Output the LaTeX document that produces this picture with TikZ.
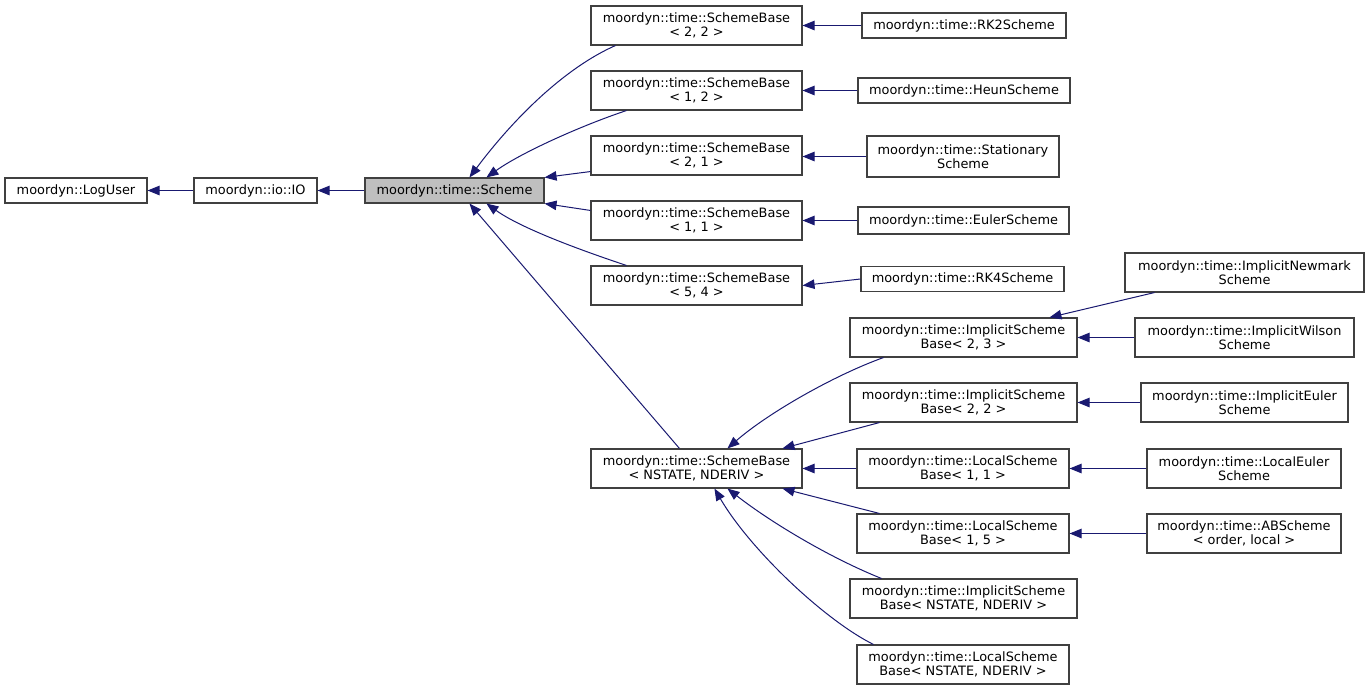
\documentclass[tikz,border=0pt]{standalone}
\usepackage{fontspec}
\setmainfont{DejaVu Sans}
\usetikzlibrary{arrows.meta}
\definecolor{azulFlecha}{HTML}{191970}
\definecolor{grisBorde}{HTML}{404040}
\definecolor{grisClase}{HTML}{BFBFBF}
\tikzset{
  clase/.style={draw=grisBorde, line width=1.1pt, inner sep=0pt, align=center,
    minimum height=25, font=\fontsize{12.9}{14}\selectfont},
  dosLineas/.style={minimum height=39},
  herencia/.style={draw=azulFlecha, line width=1pt,
    -{Triangle[length=12pt,width=9.5pt]}, fill=none},
}
\newcommand{\mtime}{moordyn::time::}

\begin{document}
\begin{tikzpicture}[x=1pt,y=-1pt]
  \useasboundingbox (0,0) rectangle (1369,691);
  % raiz de la jerarquia
  \node[clase, minimum width=142] (loguser) at (76,190.5)  {moordyn::LogUser};
  \node[clase, minimum width=123] (io)      at (255.5,190.5) {moordyn::io::IO};
  \node[clase, minimum width=179, fill=grisClase] (scheme) at (454.5,190.5) {\mtime Scheme};
  % SchemeBase
  \node[clase, dosLineas, minimum width=211] (sbA) at (696.5,25.5)  {\mtime SchemeBase\\< 2, 2 >};
  \node[clase, dosLineas, minimum width=211] (sbB) at (696.5,90.5)  {\mtime SchemeBase\\< 1, 2 >};
  \node[clase, dosLineas, minimum width=211] (sbC) at (696.5,155.5) {\mtime SchemeBase\\< 2, 1 >};
  \node[clase, dosLineas, minimum width=211] (sbD) at (696.5,220.5) {\mtime SchemeBase\\< 1, 1 >};
  \node[clase, dosLineas, minimum width=211] (sbE) at (696.5,285.5) {\mtime SchemeBase\\< 5, 4 >};
  \node[clase, dosLineas, minimum width=211] (sbN) at (696.5,468.5) {\mtime SchemeBase\\< NSTATE, NDERIV >};
  % esquemas explicitos
  \node[clase, minimum width=204] (rkdos)    at (964,25.5)  {\mtime RK2Scheme};
  \node[clase, minimum width=212] (heun)     at (964,90.5)  {\mtime HeunScheme};
  \node[clase, minimum width=192, minimum height=41] (stationary) at (963,156.5) {\mtime Stationary\\Scheme};
  \node[clase, minimum width=211, minimum height=27] (euler) at (963.5,220.5) {\mtime EulerScheme};
  \node[clase, minimum width=203] (rkcuatro) at (962.5,279) {\mtime RK4Scheme};
  % bases implicitas y locales
  \node[clase, dosLineas, minimum width=227] (isbA) at (963.5,337.5) {\mtime ImplicitScheme\\Base< 2, 3 >};
  \node[clase, dosLineas, minimum width=227] (isbB) at (963.5,402.5) {\mtime ImplicitScheme\\Base< 2, 2 >};
  \node[clase, dosLineas, minimum width=212] (lsbA) at (963,468.5)   {\mtime LocalScheme\\Base< 1, 1 >};
  \node[clase, dosLineas, minimum width=212] (lsbB) at (963,533.5)   {\mtime LocalScheme\\Base< 1, 5 >};
  \node[clase, dosLineas, minimum width=227] (isbN) at (963.5,598.5) {\mtime ImplicitScheme\\Base< NSTATE, NDERIV >};
  \node[clase, dosLineas, minimum width=212] (lsbN) at (963,664.5)   {\mtime LocalScheme\\Base< NSTATE, NDERIV >};
  % hojas
  \node[clase, dosLineas, minimum width=239] (newmark) at (1244.5,272.5) {\mtime ImplicitNewmark\\Scheme};
  \node[clase, dosLineas, minimum width=219] (wilson)  at (1244.5,337.5) {\mtime ImplicitWilson\\Scheme};
  \node[clase, dosLineas, minimum width=207] (ieuler)  at (1244.5,402.5) {\mtime ImplicitEuler\\Scheme};
  \node[clase, dosLineas, minimum width=194] (leuler)  at (1244,468.5)   {\mtime LocalEuler\\Scheme};
  \node[clase, dosLineas, minimum width=194] (absch)   at (1244,533.5)   {\mtime ABScheme\\< order, local >};

  % herencias
  \draw[herencia] (io.west) -- (loguser.east);
  \draw[herencia] (scheme.west) -- (io.east);
  \draw[herencia] ([xshift=25]sbA.south west) .. controls +(-50,22) and +(45,-60) .. ([xshift=105]scheme.north west);
  \draw[herencia] ([xshift=36]sbB.south west) .. controls +(-45,15) and +(35,-25) .. ([xshift=122]scheme.north west);
  \draw[herencia] ([yshift=4]sbC.south west) -- (scheme.north east);
  \draw[herencia] ([yshift=-10]sbD.north west) -- (scheme.south east);
  \draw[herencia] ([xshift=36]sbE.north west) .. controls +(-45,-15) and +(35,25) .. ([xshift=122]scheme.south west);
  \draw[herencia] ([xshift=89]sbN.north west) -- ([xshift=105]scheme.south west);
  \draw[herencia] (rkdos.west) -- (sbA.east);
  \draw[herencia] (heun.west) -- (sbB.east);
  \draw[herencia] (stationary.west) -- (sbC.east |- stationary.west);
  \draw[herencia] (euler.west) -- (sbD.east);
  \draw[herencia] (rkcuatro.west) -- (sbE.east);
  \draw[herencia] ([xshift=34]isbA.south west) .. controls +(-50,18) and +(40,-35) .. ([xshift=137]sbN.north west);
  \draw[herencia] ([xshift=30]isbB.south west) -- ([xshift=192]sbN.north west);
  \draw[herencia] (lsbA.west) -- (sbN.east);
  \draw[herencia] ([xshift=23]lsbB.north west) -- ([xshift=192]sbN.south west);
  \draw[herencia] ([xshift=32]isbN.north west) .. controls +(-50,-20) and +(45,35) .. ([xshift=137]sbN.south west);
  \draw[herencia] ([xshift=17]lsbN.north west) .. controls +(-50,-25) and +(35,60) .. ([xshift=124]sbN.south west);
  \draw[herencia] ([xshift=30]newmark.south west) -- ([xshift=200]isbA.north west);
  \draw[herencia] (wilson.west) -- (isbA.east);
  \draw[herencia] (ieuler.west) -- (isbB.east);
  \draw[herencia] (leuler.west) -- (lsbA.east);
  \draw[herencia] (absch.west) -- (lsbB.east);
\end{tikzpicture}
\end{document}
